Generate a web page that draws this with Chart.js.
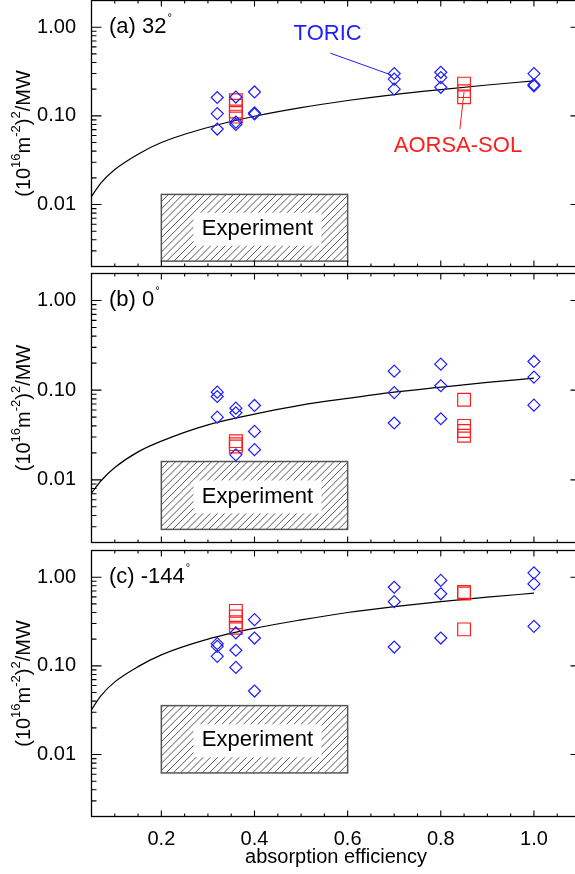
<!DOCTYPE html>
<html>
<head>
<meta charset="utf-8">
<script src="https://cdn.jsdelivr.net/npm/chart.js@4.4.0/dist/chart.umd.min.js"></script>
<style>
  html, body { margin: 0; padding: 0; background: #fff; width: 575px; height: 874px; overflow: hidden; }
  canvas { position: absolute; left: 0; }
</style>
</head>
<body>
<canvas id="cA" width="582" height="290"></canvas>
<canvas id="cB" width="582" height="290"></canvas>
<canvas id="cC" width="582" height="340"></canvas>
<script>
// axis ticks
const yTickValues = [0.01, 0.1, 1];
const yTickLabels = ['0.01', '0.10', '1.00'];
const xTickValues = [0.2, 0.4, 0.6, 0.8, 1.0];
const xTickLabels = ['0.2', '0.4', '0.6', '0.8', '1.0'];

// shared efficiencies
const toricEff = [0.32,0.32,0.32, 0.36,0.36,0.36, 0.40,0.40,0.40, 0.70,0.70,0.70, 0.80,0.80,0.80, 1.0,1.0,1.0];
const fitEff = [0.05, 0.07, 0.1, 0.15, 0.2, 0.3, 0.4, 0.5, 0.6, 0.7, 0.8, 0.9, 1.0];
const expEff = [0.2, 0.6];

// (a) 32 deg
const toricValA = [0.161,0.106,0.071, 0.163,0.085,0.080, 0.186,0.108,0.105, 0.30,0.26,0.20, 0.31,0.27,0.21, 0.30,0.225,0.218];
const aorsaEffA = [0.36,0.36,0.36,0.36, 0.85,0.85,0.85];
const aorsaValA = [0.150,0.130,0.112,0.098, 0.231,0.190,0.162];
const fitValA = [0.0123,0.0174,0.0248,0.037,0.050,0.074,0.099,0.124,0.149,0.174,0.198,0.223,0.248];
const expValA = [0.0023, 0.013];

// (b) 0 deg
const toricValB = [0.095,0.085,0.050, 0.063,0.056,0.019, 0.0675,0.0347,0.0217, 0.163,0.094,0.043, 0.195,0.112,0.048, 0.209,0.140,0.068];
const aorsaEffB = [0.36,0.36,0.36, 0.85,0.85,0.85,0.85];
const aorsaValB = [0.027,0.025,0.0235, 0.078,0.040,0.035,0.031];
const fitValB = [0.0071,0.0097,0.0137,0.0205,0.027,0.041,0.054,0.068,0.081,0.095,0.108,0.122,0.136];
const expValB = [0.0028, 0.016];

// (c) -144 deg
const toricValC = [0.178,0.166,0.128, 0.235,0.150,0.096, 0.332,0.206,0.052, 0.77,0.53,0.163, 0.92,0.65,0.206, 1.12,0.84,0.279];
const aorsaEffC = [0.36,0.36,0.36,0.36, 0.85,0.85,0.85];
const aorsaValC = [0.417,0.36,0.31,0.269, 0.68,0.655,0.258];
const fitValC = [0.032,0.046,0.066,0.098,0.133,0.20,0.265,0.33,0.40,0.465,0.53,0.595,0.66];
const expValC = [0.0062, 0.0356];

const panelLabels = ['(a) 32', '(b) 0', '(c) -144'];

const FONT = '"Liberation Sans", Arial, Helvetica, sans-serif';
const BLUE = '#1e1eff', RED = '#ff1e1e';

function pts(xs, ys){ return xs.map((x, i) => ({x, y: ys[i]})); }

// minor ticks for log axis
const yMinor = [];
[0.001, 0.01, 0.1].forEach(d => { for (let k = 2; k <= 9; k++) if (k*d >= 0.002) yMinor.push(k*d); });
const xMinor = [];
for (let v = 0.1; v < 1.1; v += 0.05) xMinor.push(Math.round(v*100)/100);

function drawExperiment(chart, o){
  const {ctx, scales: {x, y}} = chart;
  const l = x.getPixelForValue(expEff[0]), r = x.getPixelForValue(expEff[1]);
  const t = y.getPixelForValue(o.exp[1]), b = y.getPixelForValue(o.exp[0]);
  const w = r - l, h = b - t;
  ctx.save();
  ctx.beginPath(); ctx.rect(l, t, w, h); ctx.clip();
  ctx.strokeStyle = '#444'; ctx.lineWidth = 0.9;
  ctx.beginPath();
  for (let k = -h; k < w + h; k += 7.2) { ctx.moveTo(l + k, b); ctx.lineTo(l + k + h, t); }
  ctx.stroke();
  const cx = (l + r) / 2 + 3, cy = (t + b) / 2 + 1;
  ctx.fillStyle = '#fff';
  ctx.fillRect(cx - 64, cy - 16, 128, 33);
  ctx.restore();
  ctx.save();
  ctx.strokeStyle = '#555'; ctx.lineWidth = 1.5;
  ctx.strokeRect(l, t, w, h);
  ctx.fillStyle = '#000'; ctx.font = '22px ' + FONT;
  ctx.textAlign = 'center'; ctx.textBaseline = 'middle';
  ctx.fillText('Experiment', cx, cy);
  ctx.restore();
}

function drawFrame(chart){
  const {ctx, chartArea: a, scales: {x, y}} = chart;
  ctx.save();
  ctx.strokeStyle = '#000'; ctx.lineWidth = 1.3;
  ctx.strokeRect(a.left, a.top, a.right - a.left, a.bottom - a.top);
  ctx.lineWidth = 1.1;
  ctx.beginPath();
  const yt = (v, len) => { const p = y.getPixelForValue(v); ctx.moveTo(a.left, p); ctx.lineTo(a.left + len, p); ctx.moveTo(a.right, p); ctx.lineTo(a.right - len, p); };
  const xt = (v, len) => { const p = x.getPixelForValue(v); ctx.moveTo(p, a.bottom); ctx.lineTo(p, a.bottom - len); ctx.moveTo(p, a.top); ctx.lineTo(p, a.top + len); };
  yTickValues.forEach(v => yt(v, 10));
  yMinor.forEach(v => yt(v, 5));
  xMinor.forEach(v => xt(v, xTickValues.some(m => Math.abs(m - v) < 1e-6) ? 6 : 3));
  ctx.stroke();
  ctx.restore();
}

function drawYTitle(chart){
  const {ctx, chartArea: a} = chart;
  const parts = [['(10', 0], ['16', 1], ['m', 0], ['-2', 1], [')', 0], ['2', 1], ['/MW', 0]];
  const big = '20px ' + FONT, small = '13px ' + FONT;
  ctx.save();
  let w = 0;
  parts.forEach(([t, s]) => { ctx.font = s ? small : big; w += ctx.measureText(t).width; });
  ctx.translate(24, (a.top + a.bottom) / 2);
  ctx.rotate(-Math.PI / 2);
  ctx.textBaseline = 'middle'; ctx.fillStyle = '#000';
  let px = -w / 2;
  parts.forEach(([t, s]) => { ctx.font = s ? small : big; ctx.fillText(t, px, s ? -8 : 0); px += ctx.measureText(t).width; });
  ctx.restore();
}

function drawPanelText(chart, o){
  const {ctx, scales: {x, y}} = chart;
  ctx.save();
  const cy = y.getPixelForValue(1) - 0.5;
  ctx.font = '22px ' + FONT; ctx.fillStyle = '#000'; ctx.textBaseline = 'middle';
  ctx.fillText(o.label, 109, cy);
  const lw = ctx.measureText(o.label).width;
  ctx.font = '11px ' + FONT;
  ctx.fillText('\u00B0', 109 + lw + 1, cy - 9);
  if (o.notes) {
    ctx.font = '22px ' + FONT;
    ctx.fillStyle = BLUE;
    ctx.fillText('TORIC', x.getPixelForValue(0.484), y.getPixelForValue(0.84));
    ctx.fillStyle = RED;
    ctx.fillText('AORSA-SOL', x.getPixelForValue(0.699), y.getPixelForValue(0.046));
    ctx.lineWidth = 1;
    ctx.strokeStyle = BLUE;
    ctx.beginPath();
    ctx.moveTo(x.getPixelForValue(0.563), y.getPixelForValue(0.509));
    ctx.lineTo(x.getPixelForValue(0.693), y.getPixelForValue(0.29));
    ctx.stroke();
    ctx.strokeStyle = RED;
    ctx.beginPath();
    ctx.moveTo(x.getPixelForValue(0.841), y.getPixelForValue(0.0708));
    ctx.lineTo(x.getPixelForValue(0.85), y.getPixelForValue(0.188));
    ctx.stroke();
  }
  ctx.restore();
}

const decor = {
  id: 'decor',
  beforeDatasetsDraw(chart, args, o){ drawExperiment(chart, o); },
  afterDraw(chart, args, o){ drawFrame(chart); drawYTitle(chart); drawPanelText(chart, o); }
};

function panelConfig(toricVal, aorsaEff, aorsaVal, fitVal, expVal, label, bottom, notes){
  return {
    type: 'scatter',
    data: {
      datasets: [
        { label: 'TORIC', data: pts(toricEff, toricVal), pointStyle: 'rectRot', pointRadius: 6, pointHoverRadius: 6,
          borderColor: BLUE, backgroundColor: 'rgba(0,0,0,0)', pointBorderWidth: 1.2 },
        { label: 'AORSA-SOL', data: pts(aorsaEff, aorsaVal), pointStyle: 'rect', pointRadius: 9, pointHoverRadius: 9,
          borderColor: RED, backgroundColor: 'rgba(0,0,0,0)', pointBorderWidth: 1.2 },
        { label: 'fit', data: pts(fitEff, fitVal), showLine: true, pointRadius: 0, borderColor: '#000',
          borderWidth: 1.2, cubicInterpolationMode: 'monotone' }
      ]
    },
    options: {
      responsive: false, maintainAspectRatio: false, animation: false, devicePixelRatio: 1,
      layout: { padding: { left: 0, right: 1.5, top: 0, bottom: 0 }, autoPadding: false },
      plugins: { legend: { display: false }, tooltip: { enabled: false },
        decor: { exp: expVal, label, notes } },
      scales: {
        x: {
          type: 'linear', min: 0.05, max: 1.1, display: bottom,
          grid: { display: false }, border: { display: false },
          afterBuildTicks: s => { s.ticks = xTickValues.map(v => ({value: v})); },
          afterFit: s => { if (bottom) s.height = 57.5; },
          ticks: { autoSkip: false, maxRotation: 0, padding: 2.5, color: '#000', font: { family: FONT, size: 20 },
            callback: (v, i) => xTickLabels[i] },
          title: { display: bottom, text: 'absorption efficiency', color: '#000', padding: { top: 0, bottom: 5 },
            font: { family: FONT, size: 20 } }
        },
        y: {
          type: 'logarithmic', min: 0.002, max: 2,
          grid: { display: false }, border: { display: false },
          afterBuildTicks: s => { s.ticks = yTickValues.map(v => ({value: v})); },
          afterFit: s => { s.width = 91.5; },
          ticks: { padding: 7.5, color: '#000', font: { family: FONT, size: 20 },
            callback: (v, i) => yTickLabels[i] }
        }
      }
    },
    plugins: [decor]
  };
}

// build once to measure the space the library keeps round the plot, then place the canvas
function placePanel(id, cfg, top, bottom){
  const cv = document.getElementById(id);
  let ch = new Chart(cv, cfg());
  const a = ch.chartArea, h = ch.height;
  const extraTop = a.top, extraBottom = h - a.bottom;
  ch.destroy();
  cv.width = 582;
  cv.height = Math.round((bottom - top) + extraTop + extraBottom);
  cv.style.top = (top - extraTop) + 'px';
  new Chart(cv, cfg());
}

placePanel('cA', () => panelConfig(toricValA, aorsaEffA, aorsaValA, fitValA, expValA, panelLabels[0], false, true), 0.5, 266.5);
placePanel('cB', () => panelConfig(toricValB, aorsaEffB, aorsaValB, fitValB, expValB, panelLabels[1], false, false), 273.5, 542.5);
placePanel('cC', () => panelConfig(toricValC, aorsaEffC, aorsaValC, fitValC, expValC, panelLabels[2], true, false), 550.5, 816.5);
</script>
</body>
</html>
